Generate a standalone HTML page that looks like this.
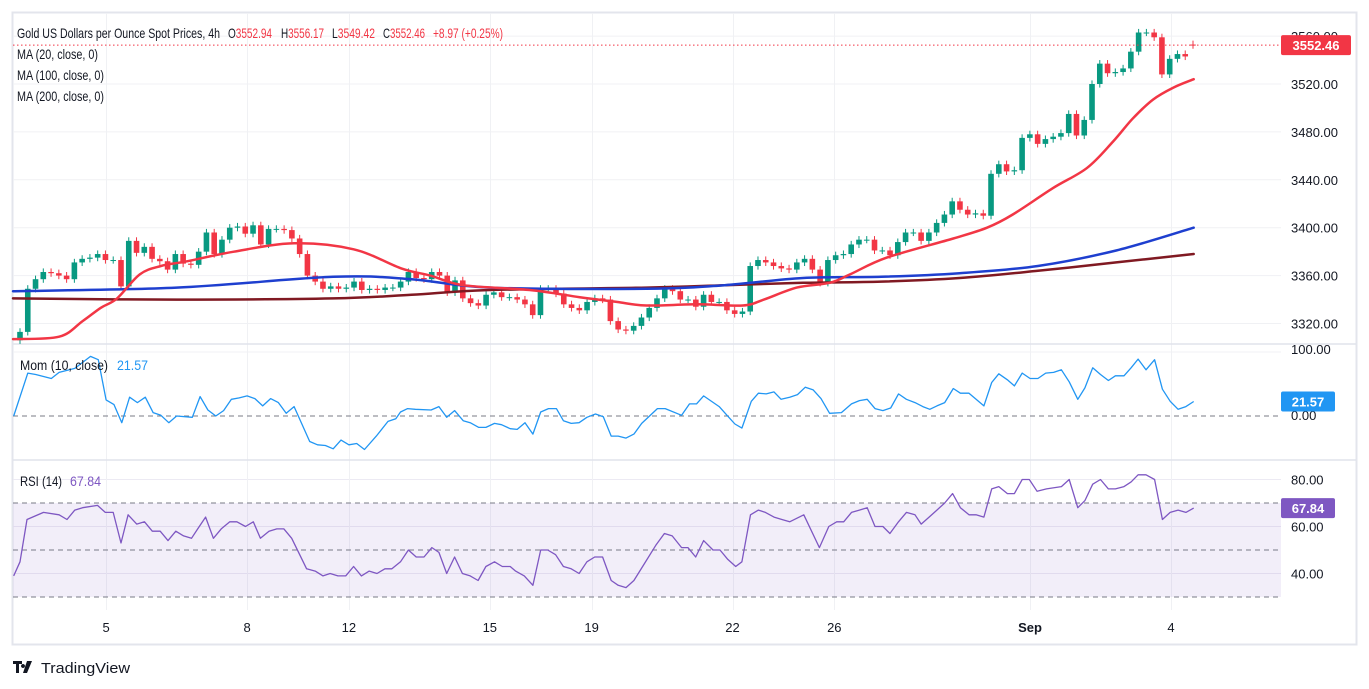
<!DOCTYPE html>
<html><head><meta charset="utf-8">
<style>
html,body{margin:0;padding:0;background:#fff;}
#wrap{position:relative;width:1369px;height:689px;overflow:hidden;font-family:"Liberation Sans",sans-serif;}
svg text{font-family:"Liberation Sans",sans-serif;}
</style></head>
<body>
<div id="wrap">
<svg id="chart" width="1369" height="689" viewBox="0 0 1369 689">
  <rect x="12.5" y="12.5" width="1344" height="632" fill="#fff" stroke="#e3e5ec" stroke-width="2"/>
  <g id="grid"></g>
  <rect x="13" y="503" width="1268" height="94" fill="#7e57c2" fill-opacity="0.1"/>
  <g id="panes"></g>
  <g id="marks"></g>
  <g id="axes"></g>
  <g>
    <text x="17" y="38" font-size="14" fill="#131722" textLength="203" lengthAdjust="spacingAndGlyphs">Gold US Dollars per Ounce Spot Prices, 4h</text>
    <text x="228" y="38" font-size="14" fill="#131722" textLength="44" lengthAdjust="spacingAndGlyphs">O<tspan fill="#f23645">3552.94</tspan></text>
    <text x="281" y="38" font-size="14" fill="#131722" textLength="43" lengthAdjust="spacingAndGlyphs">H<tspan fill="#f23645">3556.17</tspan></text>
    <text x="332" y="38" font-size="14" fill="#131722" textLength="43" lengthAdjust="spacingAndGlyphs">L<tspan fill="#f23645">3549.42</tspan></text>
    <text x="383" y="38" font-size="14" fill="#131722" textLength="42" lengthAdjust="spacingAndGlyphs">C<tspan fill="#f23645">3552.46</tspan></text>
    <text x="433" y="38" font-size="14" fill="#f23645" textLength="70" lengthAdjust="spacingAndGlyphs">+8.97 (+0.25%)</text>
    <text x="17" y="59" font-size="14" fill="#131722" textLength="81" lengthAdjust="spacingAndGlyphs">MA (20, close, 0)</text>
    <text x="17" y="80" font-size="14" fill="#131722" textLength="87" lengthAdjust="spacingAndGlyphs">MA (100, close, 0)</text>
    <text x="17" y="101" font-size="14" fill="#131722" textLength="87" lengthAdjust="spacingAndGlyphs">MA (200, close, 0)</text>
    <text x="20" y="370" font-size="14" fill="#131722" textLength="88" lengthAdjust="spacingAndGlyphs">Mom (10, close)</text>
    <text x="117" y="370" font-size="14" fill="#2196f3" textLength="31" lengthAdjust="spacingAndGlyphs">21.57</text>
    <text x="20" y="486" font-size="14" fill="#131722" textLength="42" lengthAdjust="spacingAndGlyphs">RSI (14)</text>
    <text x="70" y="486" font-size="14" fill="#7e57c2" textLength="31" lengthAdjust="spacingAndGlyphs">67.84</text>
  </g>
  <g>
    <path d="M13 661h9v3h-3v9h-3v-9h-3z M23 664a2 2 0 1 0 0.01 0z M27 661h5l-5 12h-4z" fill="#131722"/>
    <text x="41" y="673" font-size="15" fill="#131722" textLength="89" lengthAdjust="spacingAndGlyphs">TradingView</text>
  </g>
</svg>
</div>
<script>
// ---- data ----
const closes = [3313,3349,3357,3363,3362,3360,3357,3371,3374,3375,3378,3373,3373,3351,3389,3379,3384,3374,3372,3365,3378,3370,3369,3380,3396,3378,3390,3400,3401,3395,3402,3386,3399,3399,3398,3391,3378,3360,3355,3349,3351,3349,3350,3355,3348,3349,3348,3350,3350,3355,3363,3358,3357,3363,3360,
3346,3356,3341,3337,3335,3344,3346,3342,3342,3340,3336,3327,3349,3349,3345,3336,3333,3331,3338,3341,3340,3322,3315,3314,3318,3325,3333,3341,3349,3347,3340,3340,3334,3344,3338,3338,3331,3328,3330,3368,3373,3371,3368,3366,3365,3371,3374,3365,3354,
3373,3377,3378,3386,3390,3390,3381,3381,3377,3388,3396,3396,3389,3396,3404,3411,3422,3415,3411,3412,3410,3445,3453,3447,3448,3475,3478,3470,3474,3476,3479,3495,3477,3490,3520,3537,3529,3530,3533,3547,3563,3563,3559,3528,3541,3545,3543,3552.46];
const firstOpen = 3306;
const ma20Idx = [-0.9,5,8,10.3,12.4,15.3,18,21.4,27.3,35,42.6,48.7,52.4,56.6,65.1,71.5,76.2,80,86.5,92.3,95,99.2,103.4,106,110.7,119.2,123.5,126.8,131.9,136.3,139.6,142.1,144.7,147.3,149.9];
const ma20 = [3307,3309,3322,3333,3341,3361,3368,3372,3380,3387,3382,3366,3360,3352,3348,3342,3338,3335,3336,3335,3340,3350,3354,3361,3375,3391,3400,3411,3433,3450,3472,3491,3507,3517,3524];
const ma100Idx = [-0.9,20,40,50,60,80,90,100,110,120,130,140,149.9];
const ma100 = [3347,3350,3359,3357,3350,3349,3352,3358,3359,3362,3368,3381,3400];
const ma200 = [3341,3340,3341,3344,3348,3350,3352,3354,3355,3358,3364,3371,3378];
const momIdx = [-0.8,1,2,4,5,7,9,10,11,12,13,14,15,16,17,18,19,20,22,23,24,25,26,27,28,29,30,31,32,33,34,35,37,38,39,40,41,42,43,44,45.5,47,48,48.6,49.5,50.5,52.5,53.5,54.5,55.5,56.6,57.5,58.6,59.5,60.6,61.5,62.6,63.5,64.5,65.5,66.5,67.5,68.5,69.4,70.4,71.4,72.4,73.5,74.5,75.5,76.4,77.4,78.4,79.4,81.4,82.4,84.5,85.5,86.4,87.3,89.3,90.3,91.3,92.2,93.4,94.3,95.3,96.3,97.2,98.3,99.3,100.3,101.3,102.3,103.4,104.9,106.2,107.2,108.2,109.2,110.2,111.2,112.2,113.2,114.3,115.3,116.2,117.1,118.1,119.2,120.1,121.2,123.1,124.1,125,126.1,127,128,129,130,131,132,133,134,135.1,136,137,138,139,139.9,141,141.9,142.8,143.8,144.9,145.9,146.9,147.9,148.9,149.9];
const momVal = [0,64,62,56,65,71,89,84,24,17,-10,28,20,28,5,1,-10,0,-2,29,9,0,8,25,27,30,26,15,26,20,4,14,-38,-43,-44,-49,-36,-43,-41,-50,-30,-8,-4,6,11,10,9,14,-2,8,-7,-10,-17,-17,-11,-13,-19,-20,-10,-27,6,11,11,-7,-11,-10,-2,3,-1,-30,-30,-33,-27,-11,11,11,1,18,18,30,14,1,-12,-18,22,34,33,36,25,28,32,43,39,26,4,5,18,23,25,11,8,12,33,25,20,14,10,15,20,41,34,34,15,50,63,54,45,64,56,56,64,65,69,51,25,42,72,62,53,60,60,72,85,69,84,40,22,10,14,21.57];
const rsiIdx = [-0.8,0,0.9,3,5,6,7,8,9.9,10.9,11.9,12.9,13.8,14.9,15.9,16.9,17.9,18.9,19.9,20.9,21.9,22.7,23.7,24.7,25.7,26.8,27.7,28.8,29.8,30.7,31.8,32.8,33.7,34.7,36.6,37.7,38.7,39.6,40.6,41.6,42.6,43.6,44.6,45.6,46.6,47.5,48.6,49.6,50.6,51.6,52.6,53.5,54.5,55.5,56.5,57.5,58.5,59.5,60.6,61.6,62.6,63.3,64.4,65.5,66.5,67.4,68.4,69.4,70.4,71.4,72.4,73.4,74.4,75.5,76.4,77.4,78.4,79.7,81.2,82.3,83.3,84.5,85.3,86.3,87.3,88.5,89.4,90.4,91.4,92.2,93.3,94.3,95.2,96.3,97.3,98.3,100.1,102.1,103.3,104.3,105.2,106.2,107.2,108.2,109.2,110.2,111.1,112.2,113.2,114.3,115.1,116.1,117.1,118.1,119.1,120.1,121.2,122.1,123.1,124.1,125,126.1,127,128,128.9,129.9,131.1,133,134,135.1,136,137,138,139,139.9,141,141.9,142.8,143.8,144.9,145.9,146.9,147.9,148.9,149.9];
const rsiVal = [39,45,63,66,65,63,67,68,69,66,66,53,65,61,62,58,58,54,58,56,55,59,64,55,59,62,62,60,62,55,58,59,59,55,42,41,39,40,39,39,43,39,41,40,42,42,45,50,47,47,51,49,40,47,40,39,37,43,45,43,43,41,39,35,50,50,48,43,42,40,45,47,47,37,35,34,37,44,52,57,56,51,51,47,54,50,50,46,43,45,65,67,66,64,63,62,65,51,60,62,62,66,67,68,60,60,57,62,66,65,61,64,67,70,74,68,65,65,64,76,77,74,74,80,80,75,76,77,80,68,71,78,80,76,76,77,79,82,82,80,63,66,67,66,67.84];
const priceTicks = [3320,3360,3400,3440,3480,3520,3560];
const momTicks = [0,100];
const rsiTicks = [40,60,80];
const dateLabels = ["5","8","12","15","19","22","26","Sep","4"];
const dateIdx = [11,29,42,60,73,91,104,129,147];

// ---- scales ----
const NS='http://www.w3.org/2000/svg';
const PL=13, PR=1281;
const X0=20, STEP=(1193-20)/(closes.length-1);
function xC(i){return X0+i*STEP;}
function xO(i){return 20+i*7.83;}
function yP(p){return 84+(3520-p)*1.1975;}
function yM(v){return 416-v*0.67;}
function yR(v){return 503-(v-70)*2.35;}
function el(tag,attrs,parent){const e=document.createElementNS(NS,tag);for(const k in attrs)e.setAttribute(k,attrs[k]);parent.appendChild(e);return e;}
const grid=document.getElementById('grid'), marks=document.getElementById('marks'), axes=document.getElementById('axes'), panes=document.getElementById('panes');

// grid
priceTicks.forEach(t=>{const l=el('line',{x1:PL,x2:PR,y1:yP(t),y2:yP(t),stroke:'#f0f1f4','stroke-width':1},grid);

});
[yM(100)].forEach(y=>{const l=el('line',{x1:PL,x2:PR,y1:y+3,y2:y+3,stroke:'#f0f1f4'},grid);

});
rsiTicks.forEach(t=>{const l=el('line',{x1:PL,x2:PR,y1:yR(t),y2:yR(t),stroke:'#eceaf3'},grid);

});
dateIdx.forEach(i=>{const x=Math.round(xO(i))+0.5;const l=el('line',{x1:x,x2:x,y1:13,y2:610,stroke:'#f0f1f4'},grid);

});

// pane separators & dashed levels
[344,460].forEach(y=>{const l=el('line',{x1:13,x2:1356,y1:y,y2:y,stroke:'#e0e3eb','stroke-width':1.5},panes);

});
{const l=el('line',{x1:PL,x2:PR,y1:yM(0),y2:yM(0),stroke:'#787b86','stroke-dasharray':'5,4'},panes);

}
[70,50,30].forEach(v=>{const l=el('line',{x1:PL,x2:PR,y1:yR(v),y2:yR(v),stroke:'#787b86','stroke-dasharray':'5,4'},panes);

});

// candles
let prev=firstOpen;
closes.forEach((c,i)=>{
  let o=prev; if(i===closes.length-1)o=3552.94;
  let hi=Math.max(o,c)+3, lo=Math.min(o,c)-3;
  if(i===closes.length-1){hi=3556.17;lo=3549.42;}
  const col=c>=o?'#089981':'#f23645';
  const x=xC(i);
  const g=el('g',{},marks);
  
  
  el('line',{x1:x,x2:x,y1:yP(hi),y2:yP(lo),stroke:col,'stroke-width':1},g);
  const yt=yP(Math.max(o,c)), yb=yP(Math.min(o,c));
  el('rect',{x:x-2.8,y:yt,width:5.6,height:Math.max(1,yb-yt),fill:col},g);
  prev=c;
});

function smoothPath(xs,ys){
  let d='M'+xs[0].toFixed(1)+','+ys[0].toFixed(1);
  for(let k=0;k<xs.length-1;k++){
    const x0=xs[Math.max(0,k-1)],y0=ys[Math.max(0,k-1)],x1=xs[k],y1=ys[k],x2=xs[k+1],y2=ys[k+1],x3=xs[Math.min(xs.length-1,k+2)],y3=ys[Math.min(xs.length-1,k+2)];
    const c1x=x1+(x2-x0)/6,c1y=y1+(y2-y0)/6,c2x=x2-(x3-x1)/6,c2y=y2-(y3-y1)/6;
    d+=' C'+c1x.toFixed(1)+','+c1y.toFixed(1)+' '+c2x.toFixed(1)+','+c2y.toFixed(1)+' '+x2.toFixed(1)+','+y2.toFixed(1);
  }
  return d;
}
function smooth(xs,ys,color,w,name){
  const p=el('path',{d:smoothPath(xs,ys),fill:'none',stroke:color,'stroke-width':w,'stroke-linecap':'round'},marks);
  
  
}
function poly(xs,ys,color,w,name){
  const pts=xs.map((x,k)=>x.toFixed(1)+','+ys[k].toFixed(1)).join(' ');
  const p=el('polyline',{points:pts,fill:'none',stroke:color,'stroke-width':w,'stroke-linejoin':'round'},marks);
  
  
}
smooth(ma100Idx.map(xO),ma200.map(yP),'#801922',2.5,'ma200-line');
smooth(ma100Idx.map(xO),ma100.map(yP),'#1e3fcf',2.5,'ma100-line');
smooth(ma20Idx.map(xO),ma20.map(yP),'#f23645',2.5,'ma20-line');
poly(momIdx.map(xO),momVal.map(yM),'#2196f3',1.3,'momentum-line');
poly(rsiIdx.map(xO),rsiVal.map(yR),'#7e57c2',1.3,'rsi-line');

// last price dotted line
{const l=el('line',{x1:PL,x2:PR,y1:yP(3552.46),y2:yP(3552.46),stroke:'#f23645','stroke-dasharray':'1.5,2.5'},marks);

}

// axes labels
priceTicks.forEach(t=>{const tx=el('text',{x:1291,y:yP(t)+5,'font-size':13,fill:'#131722'},axes);


tx.textContent=t.toFixed(2);});
momTicks.forEach(t=>{const tx=el('text',{x:1291,y:(t===0?420:354),'font-size':13,fill:'#131722'},axes);


tx.textContent=t.toFixed(2);});
rsiTicks.forEach(t=>{const tx=el('text',{x:1291,y:yR(t)+5,'font-size':13,fill:'#131722'},axes);


tx.textContent=t.toFixed(2);});
dateLabels.forEach((d,k)=>{const tx=el('text',{x:xO(dateIdx[k]),y:632,'font-size':13,fill:'#131722','text-anchor':'middle','font-weight':d==='Sep'?'bold':'normal'},axes);


tx.textContent=d;});

function badge(y,text,color,w,name){
  const g=el('g',{},axes);
  
  
  el('rect',{x:1281,y:y-10,width:w,height:20,rx:2,fill:color},g);
  const t=el('text',{x:1281+w/2,y:y+5,'font-size':13,'font-weight':'bold',fill:'#fff','text-anchor':'middle'},g);
  t.textContent=text;
}
badge(yP(3552.46),'3552.46','#f23645',70,'last-price-badge');
badge(yM(21.57),'21.57','#2196f3',54,'momentum-value-badge');
badge(yR(67.84),'67.84','#7e57c2',54,'rsi-value-badge');
</script>
</body></html>
